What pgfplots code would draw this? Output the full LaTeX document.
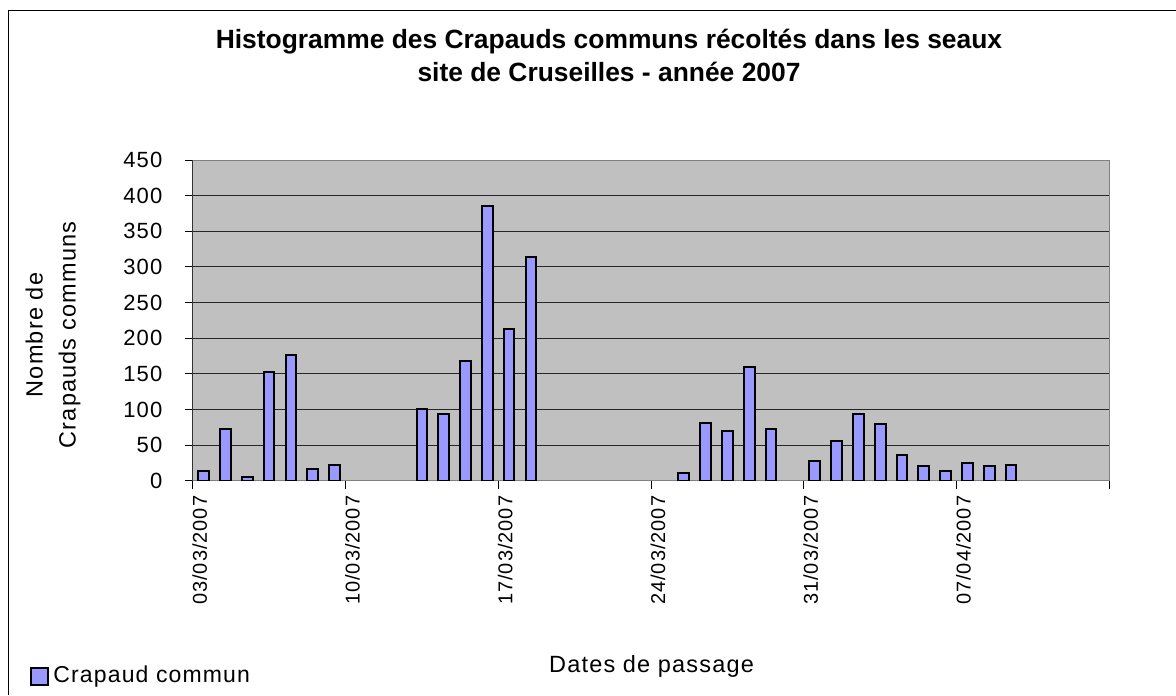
\documentclass[border=0pt]{standalone}
\usepackage{fontspec}
\setmainfont{Liberation Sans}[LetterSpace=5]
\newfontfamily\titlefont{Liberation Sans}
\usepackage{pgfplots}
\pgfplotsset{compat=1.18}
\definecolor{barfill}{HTML}{9999FF}
\definecolor{plotbg}{HTML}{C0C0C0}
\begin{document}
\begin{tikzpicture}
\useasboundingbox (0,0) rectangle (588pt,347.5pt);
\draw[line width=0.75pt] (4.15pt,0pt) -- (4.15pt,342.15pt) -- (588pt,342.15pt);
\begin{axis}[
  at={(96.35pt,107.15pt)}, anchor=south west,
  scale only axis, width=458.3pt, height=160.35pt,
  xmin=0, xmax=42, ymin=0, ymax=450,
  ytick distance=50,
  xtick={0,7,14,21,28,35,42},
  xticklabels={03/03/2007,10/03/2007,17/03/2007,24/03/2007,31/03/2007,07/04/2007,},
  axis background/.style={fill=plotbg},
  axis line style={draw=gray, line width=0.5pt},
  ymajorgrids, grid style={black!85, line width=0.5pt},
  tick align=outside, xtick pos=bottom, ytick pos=left,
  major tick length=4pt, tick style={black, line width=0.5pt},
  /pgf/number format/assume math mode=true,
  tick label style={font=\fontsize{11}{13}\selectfont},
  xticklabel style={xshift=3.5pt, rotate=90, anchor=east, font=\fontsize{10}{12}\selectfont},
  yticklabel style={anchor=east, inner sep=0pt, xshift=-11pt},
  xlabel={Dates de passage},
  xlabel style={at={(axis description cs:0.5006,-0.578)}, anchor=center, font=\fontsize{11.75}{14}\selectfont},
  ylabel={Nombre de\\Crapauds communs},
  ylabel style={at={(axis description cs:-0.1524,0.4543)}, anchor=center, align=center, font=\fontsize{11.75}{16.5}\selectfont},
  legend style={at={(axis description cs:-0.1775,-0.609)}, anchor=west, draw=none, fill=none, inner sep=0pt, font=\fontsize{11.5}{13}\selectfont},
  ybar, bar width=0.49,
  after end axis/.code={\draw[black!80, line width=0.5pt] (rel axis cs:0,0) -- (rel axis cs:0,1);},
]
\addplot[fill=barfill, draw=black, line width=1pt,
  legend image code/.code={\draw[##1] (0pt,-4.25pt) rectangle (8.5pt,4.25pt);}]
  coordinates {(0.5,14)(1.5,73)(2.5,5)(3.5,152)(4.5,177)(5.5,17)(6.5,22)
  (10.5,100)(11.5,93)(12.5,168)(13.5,385)(14.5,213)(15.5,314)
  (22.5,11)(23.5,81)(24.5,70)(25.5,160)(26.5,73)
  (28.5,28)(29.5,56)(30.5,93)(31.5,79)(32.5,36)(33.5,20)(34.5,14)(35.5,25)(36.5,20)(37.5,22)};
\legend{Crapaud commun}
\end{axis}
\node[align=center, inner sep=0pt, font=\titlefont\bfseries\fontsize{13.2}{16.3}\selectfont] at (304.5pt,319.75pt)
  {Histogramme des Crapauds communs récoltés dans les seaux\\site de Cruseilles - année 2007};
\end{tikzpicture}
\end{document}
